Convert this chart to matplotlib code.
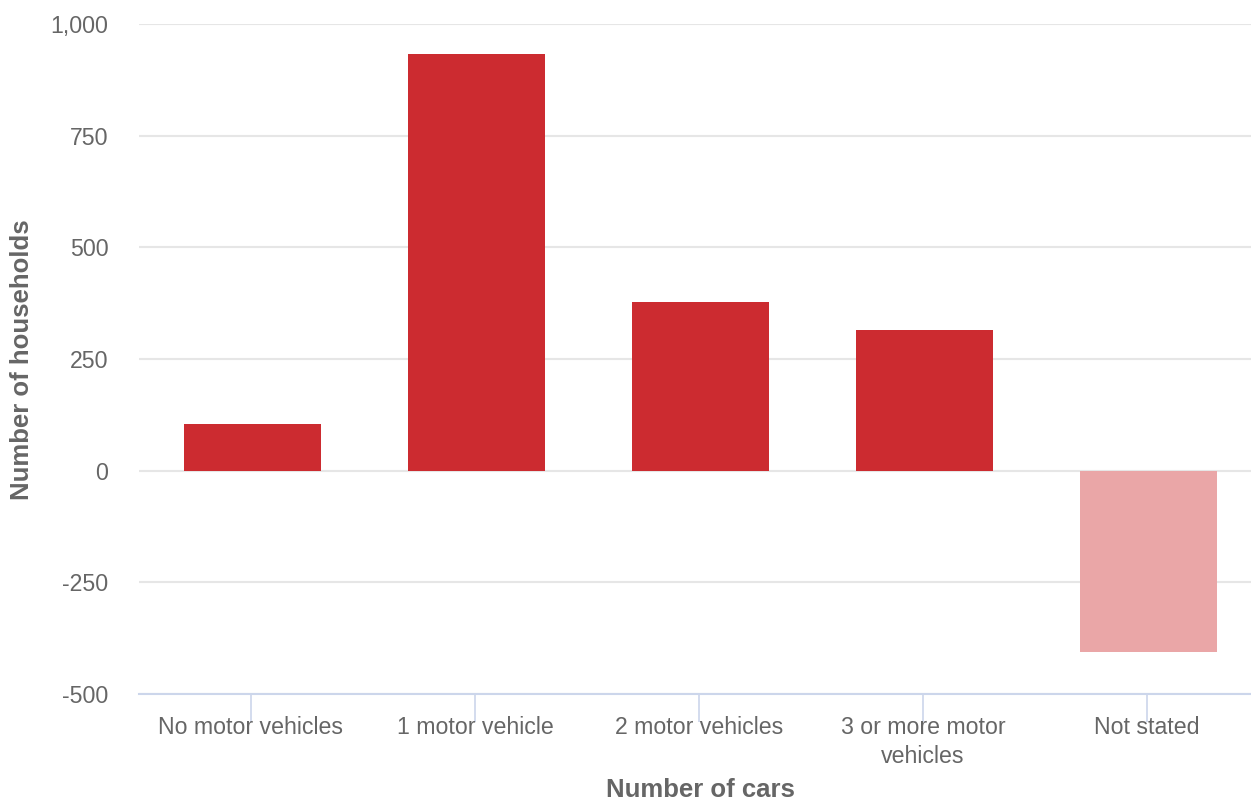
import numpy as np
import matplotlib.pyplot as plt
from matplotlib.ticker import FuncFormatter

# households by number of motor vehicles
categories = ["No motor vehicles", "1 motor vehicle", "2 motor vehicles",
              "3 or more motor\nvehicles", "Not stated"]
households = [105, 933, 378, 315, -406]
bar_colors = ["#cc2b30", "#cc2b30", "#cc2b30", "#cc2b30", "#eaa6a7"]

plt.rcParams['font.family'] = ['Liberation Sans', 'DejaVu Sans']
text_color = "#666666"

W, H = 1251, 801
fig = plt.figure(figsize=(W / 100, H / 100), dpi=100)
# axes spans a little past the right edge so each category gets 224 px
ax = fig.add_axes([139 / W, (H - 694) / H, 1120 / W, 670 / H])

x = np.arange(len(categories))
ax.bar(x + 0.007, households, width=0.612, color=bar_colors, zorder=3)

ax.set_xlim(-0.5, len(categories) - 0.5)
ax.set_ylim(-500, 1000)
ax.set_yticks([-500, -250, 0, 250, 500, 750, 1000])
ax.yaxis.set_major_formatter(FuncFormatter(lambda v, p: f"{int(v):,}"))
ax.grid(axis='y', color="#e6e6e6", linewidth=1.5, zorder=0)

ax.set_xticks(x)
ax.set_xticklabels(categories, fontsize=16.7, color=text_color, linespacing=1.3)
ax.tick_params(axis='x', length=20, width=1.2, color="#ccd6eb", pad=-4)
ax.tick_params(axis='y', length=0, pad=22, labelsize=16.7, labelcolor=text_color)

for side in ['top', 'right', 'left']:
    ax.spines[side].set_visible(False)
ax.spines['bottom'].set_color("#ccd6eb")
ax.spines['bottom'].set_linewidth(1.5)

fig.text(700 / W, 1 - 797 / H, "Number of cars", fontsize=18.5, fontweight='bold',
         color=text_color, ha='center', va='baseline')
fig.text(22 / W, 1 - 360 / H, "Number of households", fontsize=18.5, fontweight='bold',
         color=text_color, ha='center', va='center', rotation=90)

fig.savefig("out.png", dpi=100, facecolor="white")
